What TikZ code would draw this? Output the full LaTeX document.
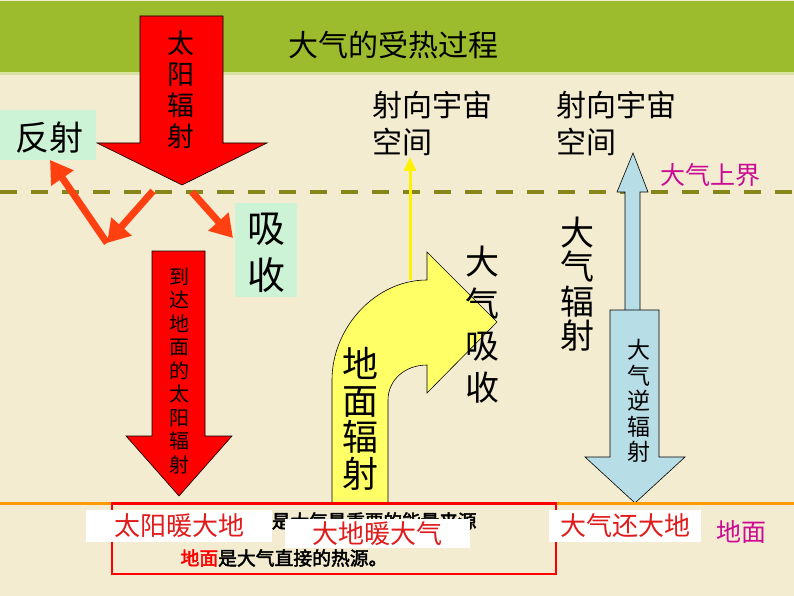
\documentclass[tikz,border=0pt]{standalone}
\usepackage{fontspec}
\newfontfamily\cjk[AutoFakeBold=2.5]{Noto Sans CJK SC}
\usetikzlibrary{arrows.meta}
\definecolor{paper}{HTML}{F3ECD1}
\definecolor{band}{HTML}{9CBC2D}
\definecolor{bandlight}{HTML}{D6E2A0}
\definecolor{olive}{HTML}{85851A}
\definecolor{rayred}{HTML}{FF4010}
\definecolor{mint}{HTML}{CCF3D6}
\definecolor{sunyel}{HTML}{FFFF66}
\definecolor{skyblue}{HTML}{B7DDE6}
\definecolor{groundor}{HTML}{FF9A00}
\definecolor{txtred}{HTML}{E01B1B}
\definecolor{pinkmag}{HTML}{CC0A94}
\newcommand\cnsize[2]{\fontsize{#1}{#2}\selectfont}

\begin{document}
\begin{tikzpicture}[x=1pt, y=-1pt, font=\cjk,
  blk/.style={draw=black, line width=0.6pt},
  vtxt/.style={align=center, inner sep=0pt},
  ray/.style={-{Triangle[length=22pt, width=26pt]}, line width=7pt, draw=rayred},
  tag/.style={fill=white, inner sep=0pt, text=txtred, font=\cjk\cnsize{26}{30}}
]
\useasboundingbox (0,0) rectangle (794,596);
% background and title band
\fill[paper] (0,0) rectangle (794,596);
\fill[band] (0,1.5) rectangle (794,72);
\fill[bandlight] (0,72) rectangle (794,75);
\node[font=\cjk\cnsize{30}{34}] (title) at (393,45) {大气的受热过程};

% upper boundary of the atmosphere
\coordinate (topL) at (0,192);
\coordinate (topR) at (794,192);
\draw[olive, line width=4.5pt, dash pattern=on 17pt off 14pt] (topL) -- (topR);

% incoming solar radiation
\filldraw[fill=red, blk] (140,16) -- (223,16) -- (223,143) -- (267,143)
  -- (182,185) -- (97,143) -- (140,143) -- cycle;
\node[vtxt, font=\cjk\cnsize{27}{31}] (sun) at (181,90) {太\\阳\\辐\\射};

% reflection and absorption
\fill[mint] (0,110) rectangle (96,160);
\fill[mint] (235,203) rectangle (297,297);
\node[font=\cjk\cnsize{34}{38}] (refl) at (49,138) {反射};
\node[vtxt, font=\cjk\cnsize{38}{47}] (absb) at (266,253) {吸\\收};
\coordinate (inA) at (153,191);
\coordinate (hit) at (107,243);
\coordinate (outA) at (50,160);
\coordinate (inB) at (192,192);
\coordinate (absA) at (233,238);
\draw[ray] (hit) -- (outA);
\draw[ray] (inA) -- (hit);
\draw[ray] (inB) -- (absA);

% solar radiation reaching the ground
\filldraw[fill=red, blk] (152,251) -- (205,251) -- (205,436) -- (232,436)
  -- (179,496) -- (126,436) -- (152,436) -- cycle;
\node[vtxt, font=\cjk\cnsize{20}{23.5}] (reach) at (179,371) {到\\达\\地\\面\\的\\太\\阳\\辐\\射};

% ground radiation
\coordinate (leak) at (410,280);
\coordinate (leakE) at (410,157);
\draw[yellow, line width=3pt, -{Triangle[length=14pt, width=12pt]}] (leak) -- (leakE);
\filldraw[fill=sunyel, blk] (332,503) -- (332,380) .. controls (332,328) and (375,280) .. (427,280)
  -- (427,252) -- (497,322) -- (427,393) -- (427,365)
  .. controls (405,365) and (388,380) .. (388,400) -- (388,503) -- cycle;
\node[vtxt, font=\cjk\cnsize{36}{36.5}] (grad) at (360,419) {地\\面\\辐\\射};
\node[vtxt, font=\cjk\cnsize{34}{42}] (aabs) at (482,325) {大\\气\\吸\\收};

% atmospheric radiation
\filldraw[fill=skyblue, blk] (625,312) -- (625,192) -- (617,192) -- (633,153)
  -- (648,192) -- (640,192) -- (640,312) -- cycle;
\filldraw[fill=skyblue, blk] (610,310) -- (659,310) -- (659,457) -- (685,457)
  -- (635,503) -- (585,457) -- (610,457) -- cycle;
\node[vtxt, font=\cjk\cnsize{34}{34.5}] (arad) at (577,284) {大\\气\\辐\\射};
\node[vtxt, font=\cjk\cnsize{23}{25.5}] (back) at (639,401) {大\\气\\逆\\辐\\射};

% labels near the top
\node[anchor=west, align=left, inner sep=0pt, font=\cjk\cnsize{30}{37}] (space1) at (372,123) {射向宇宙\\空间};
\node[anchor=west, align=left, inner sep=0pt, font=\cjk\cnsize{30}{37}] (space2) at (556,123) {射向宇宙\\空间};
\node[anchor=west, inner sep=0pt, text=pinkmag, font=\cjk\cnsize{25}{28}] (bound) at (660,175) {大气上界};

% ground
\coordinate (gndL) at (0,503.5);
\coordinate (gndR) at (794,503.5);
\draw[groundor, line width=3pt] (gndL) -- (gndR);
\draw[red, line width=2.5pt] (112,503.5) rectangle (556,574);
\node[font=\cjk\bfseries\cnsize{18.6}{22}] (note1) at (337,521) {太阳辐射是大气最重要的能量来源};
\node[font=\cjk\bfseries\cnsize{18.8}{22}] (note2) at (284,558) {\textcolor{red}{地面}是大气直接的热源。};
\node[tag, minimum width=186pt, minimum height=32pt] (warm1) at (179,526) {太阳暖大地};
\node[tag, minimum width=185pt, minimum height=29pt] (warm2) at (377.5,533.5) {大地暖大气};
\node[tag, minimum width=152pt, minimum height=32pt] (warm3) at (625,526) {大气还大地};
\node[text=pinkmag, font=\cjk\cnsize{25}{28}] (gnd) at (741,532) {地面};
\end{tikzpicture}
\end{document}
